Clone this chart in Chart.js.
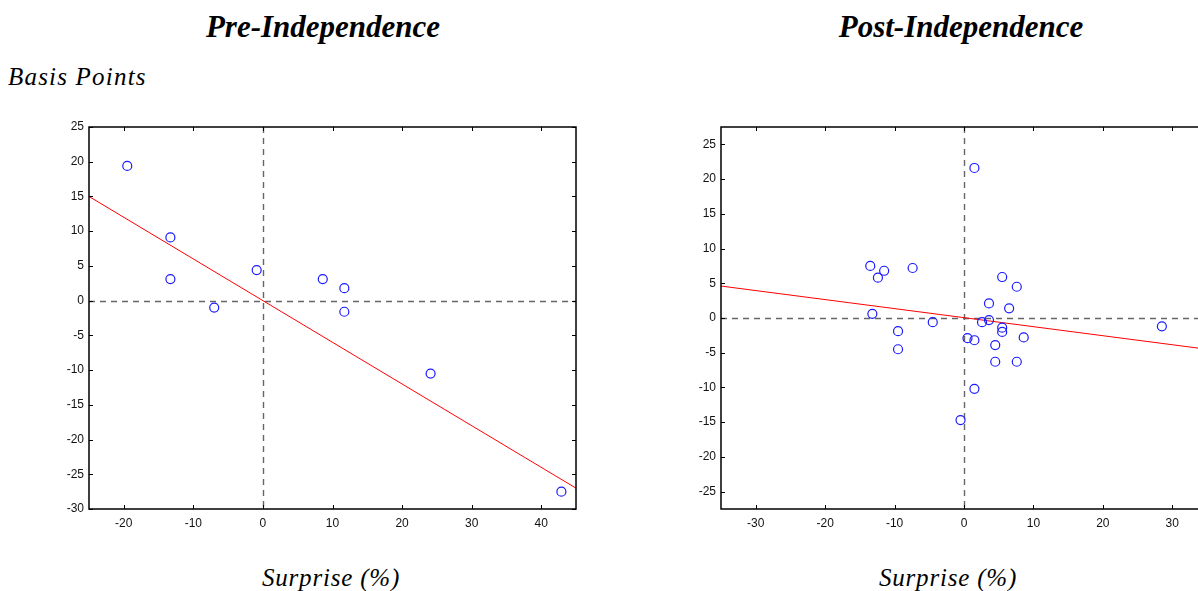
<!DOCTYPE html>
<html>
<head>
<meta charset="utf-8">
<script src="https://cdn.jsdelivr.net/npm/chart.js@4.4.1/dist/chart.umd.min.js"></script>
<style>
  html, body { margin: 0; padding: 0; background: #fff; width: 1198px; height: 591px; overflow: hidden; position: relative; }
  .t { position: absolute; font-family: "Liberation Serif", "Times New Roman", serif; font-style: italic; white-space: nowrap; color: #000; }
  .h { font-weight: bold; font-size: 31px; line-height: 31px; text-align: center; }
  .lab { font-size: 25px; line-height: 25px; letter-spacing: 0.8px; }
  .c { text-align: center; }
  .box { position: absolute; top: 100px; width: 561px; height: 440px; }
</style>
</head>
<body>
<div class="t h" style="left:123px; width:400px; top:11px;">Pre-Independence</div>
<div class="t h" style="left:761px; width:400px; top:11px;">Post-Independence</div>
<div class="t lab" style="left:8px; top:64px; letter-spacing:1.2px;">Basis Points</div>
<div class="box" style="left:39px;"><canvas id="pre" width="561" height="440"></canvas></div>
<div class="box" style="left:671px; width:560px;"><canvas id="post" width="560" height="440"></canvas></div>
<div class="t lab c" style="left:231px; width:200px; top:565px;">Surprise (%)</div>
<div class="t lab c" style="left:848px; width:200px; top:565px;">Surprise (%)</div>
<script>
// pre-independence surprises (%) and rate response (bp)
const preX = [-19.5, -13.3, -13.3, -7.0, -0.9, 8.6, 11.7, 11.7, 24.1, 42.9];
const preY = [19.4, 9.1, 3.1, -1.0, 4.4, 3.1, 1.8, -1.6, -10.5, -27.5];
const preFitX = [-25, 45];
const preFitY = [15, -27];

// post-independence
const postX = [1.5, -13.5, -11.5, -12.4, -7.4, -13.2, -9.5, -9.5, -4.5, -0.5, 1.5, 0.5, 1.5,
  2.6, 3.6, 3.6, 5.5, 7.6, 6.5, 5.5, 5.5, 8.6, 4.5, 4.5, 7.6, 28.5];
const postY = [21.6, 7.5, 6.8, 5.8, 7.2, 0.6, -1.9, -4.5, -0.6, -14.7, -10.2, -2.9, -3.2,
  -0.6, -0.3, 2.1, 5.9, 4.5, 1.4, -1.4, -2.0, -2.8, -3.9, -6.3, -6.3, -1.2];
const postFitX = [-35, 35];
const postFitY = [4.6, -4.5];

const preXRange = [-25, 45], preYRange = [-30, 25];
const postXRange = [-35, 35], postYRange = [-27.5, 27.5];
const preXTicks = [-20, -10, 0, 10, 20, 30, 40];
const preYTicks = [-30, -25, -20, -15, -10, -5, 0, 5, 10, 15, 20, 25];
const postXTicks = [-30, -20, -10, 0, 10, 20, 30];
const postYTicks = [-25, -20, -15, -10, -5, 0, 5, 10, 15, 20, 25];

// matlab style box: inward ticks on all sides, dashed zero lines
const matlabAxes = {
  id: 'matlabAxes',
  beforeDatasetsDraw(chart) {
    const { ctx, chartArea: a, scales: { x, y } } = chart;
    const x0 = Math.round(x.getPixelForValue(0)) + 0.5, y0 = Math.round(y.getPixelForValue(0)) + 0.5;
    ctx.save();
    ctx.strokeStyle = '#666'; ctx.lineWidth = 1.4; ctx.setLineDash([6, 5]);
    ctx.beginPath();
    ctx.moveTo(x0, a.top); ctx.lineTo(x0, a.bottom);
    ctx.moveTo(a.left, y0); ctx.lineTo(a.right, y0);
    ctx.stroke();
    ctx.restore();
  },
  afterDraw(chart) {
    const { ctx, chartArea: a, scales: { x, y } } = chart;
    ctx.save();
    ctx.strokeStyle = '#000'; ctx.lineWidth = 1;
    ctx.beginPath();
    x.ticks.forEach(t => {
      const p = Math.round(x.getPixelForValue(t.value)) + 0.5;
      ctx.moveTo(p, a.bottom); ctx.lineTo(p, a.bottom - 4);
      ctx.moveTo(p, a.top); ctx.lineTo(p, a.top + 4);
    });
    y.ticks.forEach(t => {
      const p = Math.round(y.getPixelForValue(t.value)) + 0.5;
      ctx.moveTo(a.left, p); ctx.lineTo(a.left + 4, p);
      ctx.moveTo(a.right, p); ctx.lineTo(a.right - 4, p);
    });
    ctx.stroke();
    ctx.lineWidth = 1.5;
    ctx.strokeRect(a.left, a.top, a.right - a.left, a.bottom - a.top);
    ctx.restore();
  }
};

function makeChart(id, xs, ys, fitX, fitY, xRange, yRange, xTicks, yTicks) {
  const tickFont = { family: '"Liberation Sans", Arial, sans-serif', size: 12 };
  return new Chart(document.getElementById(id), {
    type: 'scatter',
    data: {
      datasets: [
        { data: xs.map((v, i) => ({ x: v, y: ys[i] })), pointStyle: 'circle', pointRadius: 4.5,
          borderColor: '#1a1aff', backgroundColor: 'rgba(0,0,0,0)', borderWidth: 1.2, order: 1 },
        { type: 'line', data: fitX.map((v, i) => ({ x: v, y: fitY[i] })), borderColor: '#ff0000',
          borderWidth: 1, pointRadius: 0, fill: false, order: 2 }
      ]
    },
    options: {
      responsive: false, animation: false, devicePixelRatio: 1,
      layout: { padding: { top: 27, right: 24, left: 0, bottom: 0 } },
      plugins: { legend: { display: false }, tooltip: { enabled: false } },
      scales: {
        x: {
          type: 'linear', min: xRange[0], max: xRange[1],
          grid: { display: false, drawTicks: false }, border: { display: false },
          afterBuildTicks: s => { s.ticks = xTicks.map(v => ({ value: v })); },
          afterFit: s => { s.height = 31; },
          ticks: { font: tickFont, color: '#111', padding: 7, maxRotation: 0, autoSkip: false }
        },
        y: {
          type: 'linear', min: yRange[0], max: yRange[1],
          grid: { display: false, drawTicks: false }, border: { display: false },
          afterBuildTicks: s => { s.ticks = yTicks.map(v => ({ value: v })); },
          afterFit: s => { s.width = 50; },
          ticks: { font: tickFont, color: '#111', padding: 5, autoSkip: false }
        }
      }
    },
    plugins: [matlabAxes]
  });
}

makeChart('pre', preX, preY, preFitX, preFitY, preXRange, preYRange, preXTicks, preYTicks);
makeChart('post', postX, postY, postFitX, postFitY, postXRange, postYRange, postXTicks, postYTicks);
</script>
</body>
</html>
